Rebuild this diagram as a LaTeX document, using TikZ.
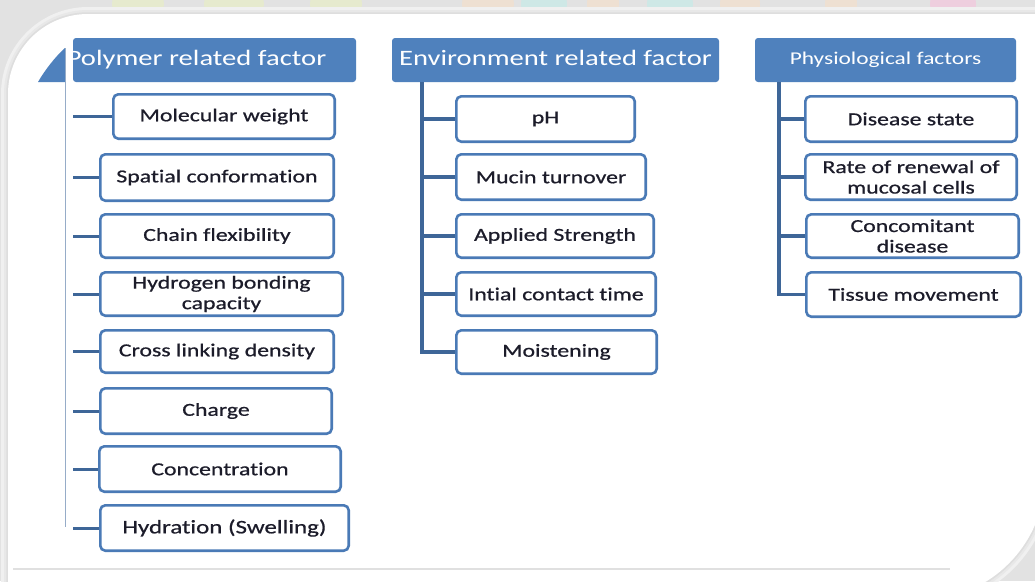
\documentclass[tikz,border=0pt]{standalone}
\usepackage{fontspec}
\setmainfont{Carlito}[FakeStretch=1.3, Ligatures=NoCommon]
\newfontfamily\leaffont{Carlito}[FakeStretch=1.3, FakeBold=0.7, Ligatures=NoCommon]
\definecolor{bgc}{RGB}{226,226,226}
\definecolor{headblue}{RGB}{79,129,189}
\definecolor{boxblue}{RGB}{74,122,182}
\definecolor{connblue}{RGB}{62,102,152}
\definecolor{thinblue}{RGB}{150,172,200}
\definecolor{textc}{RGB}{28,28,42}
\definecolor{blobg}{RGB}{230,234,206}
\definecolor{blobp}{RGB}{238,224,210}
\definecolor{blobc}{RGB}{206,232,230}
\definecolor{blobk}{RGB}{238,206,222}
\tikzset{
  leaf/.style={draw=boxblue, line width=2.6pt, fill=white, rounded corners=5pt,
    inner sep=0pt, align=center, text=textc, font=\leaffont\fontsize{18.3}{20.5}\selectfont},
  head/.style={fill=headblue, rounded corners=3pt, inner sep=0pt, text=white,
    align=center, minimum height=44pt},
  conn/.style={draw=connblue, line width=3pt},
  trunk/.style={draw=connblue, line width=3.6pt, line join=miter},
}
\begin{document}
\begin{tikzpicture}[x=1pt,y=-1pt]
\useasboundingbox (0,0) rectangle (1035,581);
\fill[bgc] (0,0) rectangle (1035,581);
% faint decorations at the top
\foreach \cx/\w/\c in {138/26/blobg, 234/30/blobg, 336/26/blobg, 488/26/blobp, 544/23/blobc, 603/16/blobp, 670/23/blobc, 740/20/blobp, 841/16/blobp, 953/23/blobk}
  \fill[\c] (\cx,4) ellipse [x radius=\w, y radius=22];
% card shadow
\def\cardshape{(8,640) -- (8,94) .. controls (8,49.8) and (43.8,14) .. (88,14) -- (1060,14) -- (1045,14) -- (1045,476) .. controls (1045,544.4) and (989.4,600) .. (921,600) -- (921,640) -- cycle}
\draw[black!6, line width=14pt] \cardshape;
\draw[black!9, line width=8pt] \cardshape;
\draw[black!13, line width=3.5pt] \cardshape;
\fill[white] \cardshape;
\draw[black!12, line width=1.2pt] (13,569) -- (950,569);

% headers
\fill[headblue] (38,82) .. controls (45,70) and (55,57) .. (65,48) -- (65,82) -- cycle;
\node[head, minimum width=283pt, font=\fontsize{22}{26}\selectfont] (h1) at (214.5,60) {\hspace*{-36pt}Polymer related factor\vphantom{p}};
\node[head, minimum width=327pt, font=\fontsize{22}{26}\selectfont] (h2) at (555.5,60) {Environment related factor\vphantom{p}};
\node[head, minimum width=261pt, font=\fontsize{18}{22}\selectfont] (h3) at (885.5,60) {Physiological factors};

% polymer column
\node[leaf, minimum width=221.4pt, minimum height=44.4pt] (p1) at (224,116.5) {Molecular weight};
\node[leaf, minimum width=233.4pt, minimum height=46.4pt] (p2) at (217,177.5) {Spatial conformation};
\node[leaf, minimum width=233.4pt, minimum height=43.4pt] (p3) at (217,236) {Chain flexibility};
\node[leaf, minimum width=242.4pt, minimum height=43.4pt] (p4) at (221.5,294) {Hydrogen bonding\\capacity};
\node[leaf, minimum width=233.4pt, minimum height=42.4pt] (p5) at (217,351.5) {Cross linking density};
\node[leaf, minimum width=231.4pt, minimum height=45.4pt] (p6) at (216,411) {Charge};
\node[leaf, minimum width=241.4pt, minimum height=45.4pt] (p7) at (220,469) {Concentration};
\node[leaf, minimum width=248.4pt, minimum height=45.4pt, font=\leaffont\fontsize{19.2}{21}\selectfont] (p8) at (224.5,528) {Hydration (Swelling)};

% environment column
\node[leaf, minimum width=178.4pt, minimum height=45.4pt] (e1) at (545.5,119) {pH};
\node[leaf, minimum width=189.4pt, minimum height=45.4pt] (e2) at (551,177) {Mucin turnover};
\node[leaf, minimum width=197.4pt, minimum height=43.4pt] (e3) at (555,236) {Applied Strength};
\node[leaf, minimum width=199.4pt, minimum height=43.4pt] (e4) at (556,294) {Intial contact time};
\node[leaf, minimum width=200.4pt, minimum height=43.4pt] (e5) at (556.5,352) {Moistening};

% physiological column
\node[leaf, minimum width=211.4pt, minimum height=45.4pt] (f1) at (911,119) {Disease state};
\node[leaf, minimum width=211.4pt, minimum height=45.4pt] (f2) at (911,177) {Rate of renewal of\\mucosal cells};
\node[leaf, minimum width=212.4pt, minimum height=43.4pt] (f3) at (912.5,236) {Concomitant\\disease};
\node[leaf, minimum width=214.4pt, minimum height=44.4pt] (f4) at (913.5,294.5) {Tissue movement};

% connectors: polymer
\coordinate (ttop) at (65.5,48);
\coordinate (tbot) at (65.5,527);
\draw[thinblue, line width=1.4pt] (ttop) -- (tbot);
\coordinate (pl) at (73,0);
\foreach \n in {p1,p2,p3,p4,p5,p6,p7,p8}
  \draw[conn] (pl |- \n.west) -- (\n.west);

% connectors: environment
\coordinate (t2) at (422,82);
\foreach \n in {e1,e2,e3,e4,e5}
  \draw[trunk] (t2) |- (\n.west);

% connectors: physiological
\coordinate (t3) at (779,82);
\foreach \n in {f1,f2,f3,f4}
  \draw[trunk] (t3) |- (\n.west);
\end{tikzpicture}
\end{document}
